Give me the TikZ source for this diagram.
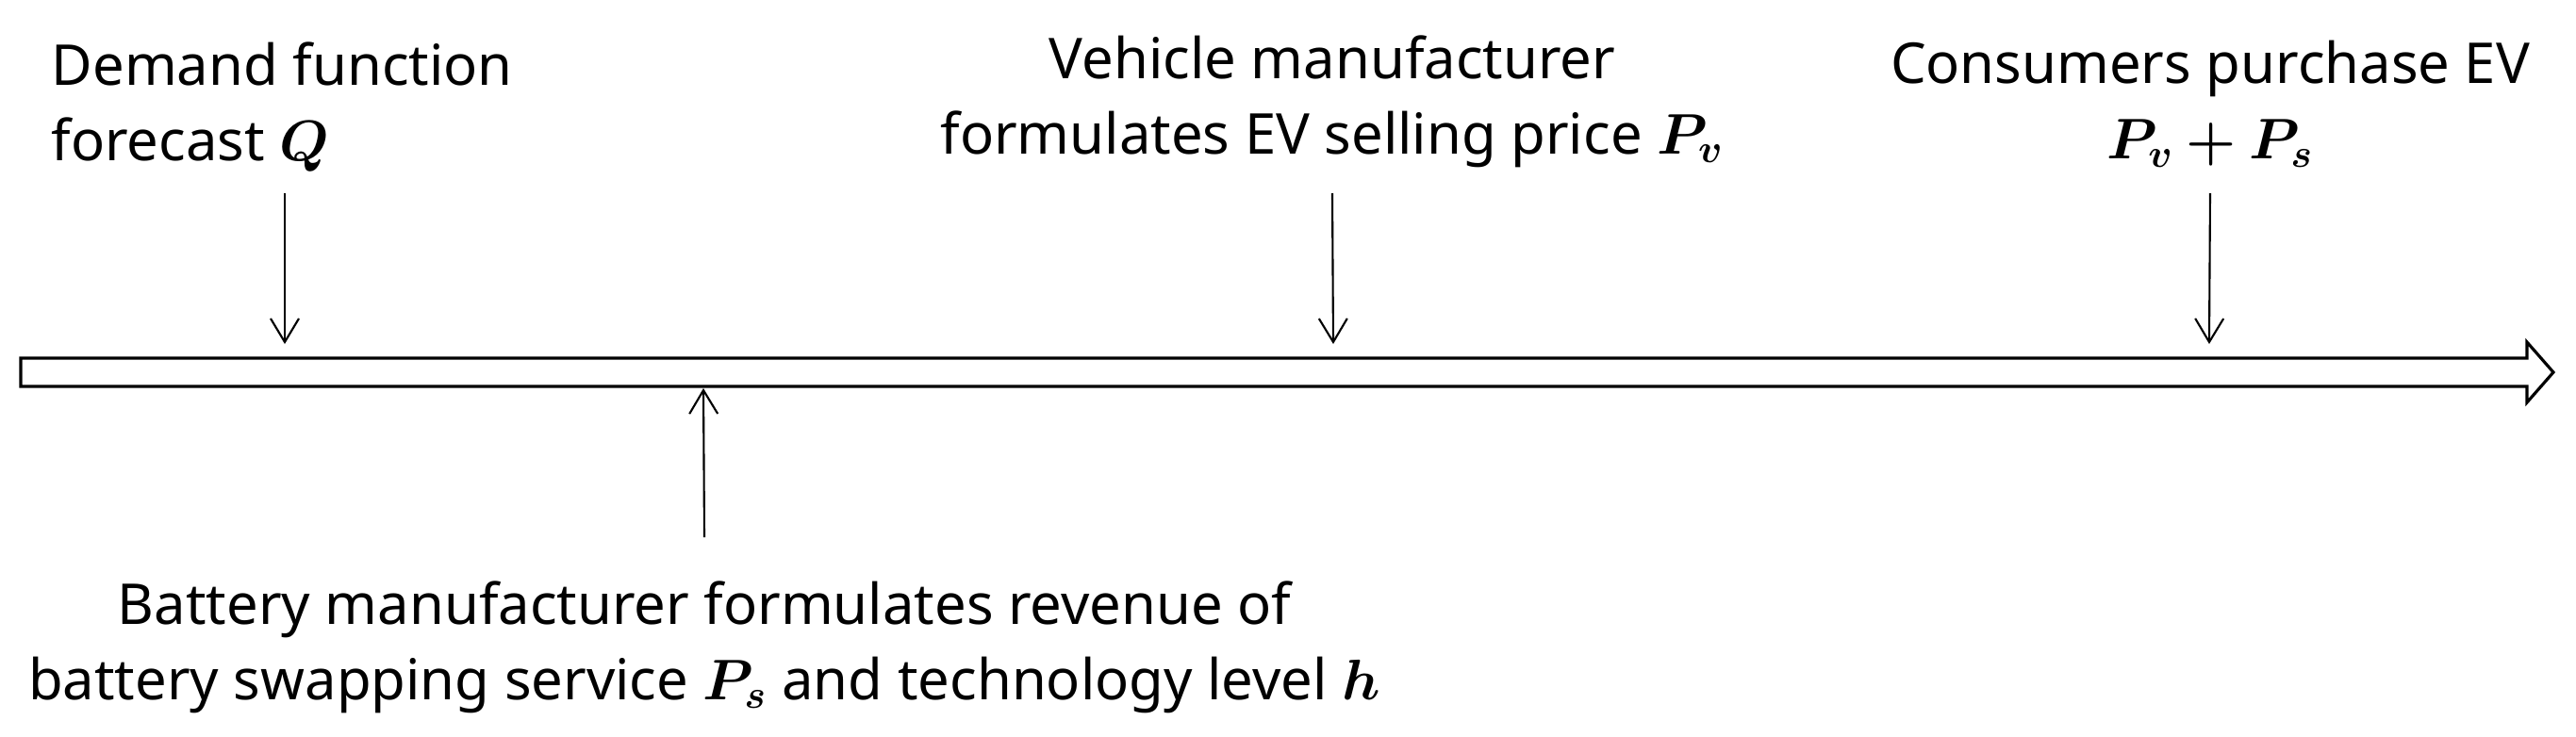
\documentclass[tikz,border=0pt]{standalone}
\usepackage{fontspec}
\usepackage{bm}
\setmainfont{Noto Sans}
\usetikzlibrary{arrows.meta}
\tikzset{
  lbl/.style={inner sep=0pt, font=\fontsize{17}{22.76}\selectfont},
  evt/.style={line width=0.6pt, -{Straight Barb[length=0.25cm, width=0.30cm]}},
  band/.style={line width=0.9pt, line join=miter}
}
\begin{document}
\begin{tikzpicture}
\useasboundingbox (0,0) rectangle (27.32,-7.82);
\draw[band] (0.22,-3.80) -- (26.80,-3.80) -- (26.80,-3.63) -- (27.08,-3.95)
  -- (26.80,-4.27) -- (26.80,-4.10) -- (0.22,-4.10) -- cycle;
\coordinate (Q) at (3.02,-3.65);
\coordinate (Pv) at (14.14,-3.65);
\coordinate (PvPs) at (23.43,-3.65);
\coordinate (Ps) at (7.46,-4.12);
\node[lbl, align=left, anchor=base west] (dq) at (0.54,-1.70) {Demand function\\forecast $\bm{Q}$};
\node[lbl, align=center, anchor=base] (vm) at (14.13,-1.63) {Vehicle manufacturer\\formulates EV selling price $\bm{P_v}$};
\node[lbl, align=center, anchor=base] (cp) at (23.44,-1.68) {Consumers purchase EV\\$\bm{P_v+P_s}$};
\node[lbl, align=center, anchor=base] (bm) at (7.47,-7.42) {Battery manufacturer formulates revenue of\\battery swapping service $\bm{P_s}$ and technology level $\bm{h}$};
\draw[evt] (Q |- 0,-2.05) -- (Q);
\draw[evt] (vm.south |- 0,-2.05) -- (Pv);
\draw[evt] (cp.south |- 0,-2.05) -- (PvPs);
\draw[evt] (bm.north |- 0,-5.70) -- (Ps);
\end{tikzpicture}
\end{document}
